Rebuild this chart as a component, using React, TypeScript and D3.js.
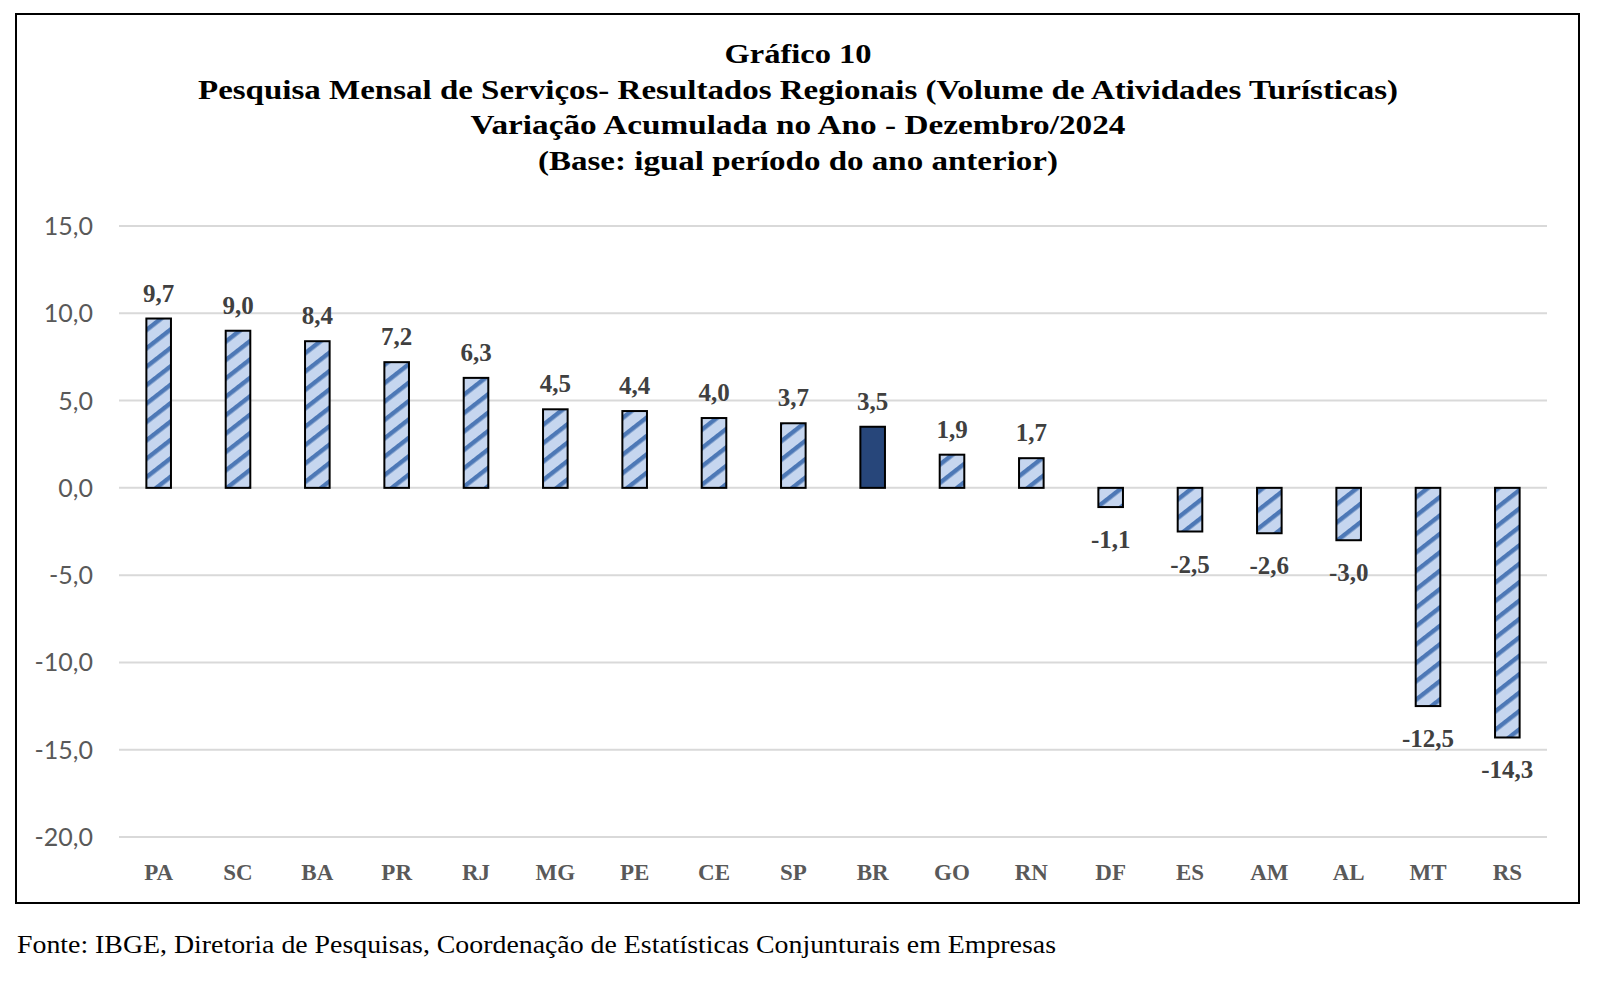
import React from "react";
import * as d3 from "d3";

const categories = ["PA", "SC", "BA", "PR", "RJ", "MG", "PE", "CE", "SP", "BR", "GO", "RN", "DF", "ES", "AM", "AL", "MT", "RS"];
const values = [9.7, 9.0, 8.4, 7.2, 6.3, 4.5, 4.4, 4.0, 3.7, 3.5, 1.9, 1.7, -1.1, -2.5, -2.6, -3.0, -12.5, -14.3];
const yTicks = [15, 10, 5, 0, -5, -10, -15, -20];
const highlight = "BR";
const titleLines = [
  "Gráfico 10",
  "Pesquisa Mensal de Serviços- Resultados Regionais (Volume de Atividades Turísticas)",
  "Variação Acumulada no Ano - Dezembro/2024",
  "(Base: igual período do ano anterior)",
];
const titleWidths = [147, 1200, 655, 520];
const footer = "Fonte: IBGE, Diretoria de Pesquisas, Coordenação de Estatísticas Conjunturais em Empresas";

const W = 1610;
const H = 988;
const plotLeft = 119;
const plotRight = 1547;
const fmt = (v: number) => v.toFixed(1).replace(".", ",");

export default function App() {
  const x = d3
    .scaleBand<string>()
    .domain(categories)
    .range([plotLeft, plotRight])
    .paddingInner(0.69)
    .paddingOuter(0.345);
  const y = d3.scaleLinear().domain([-20, 15]).range([837, 226]);
  const serif = "'Liberation Serif', 'Times New Roman', serif";
  const sans = "Lato, 'Open Sans', sans-serif";

  return (
    <div style={{ position: "absolute", left: 0, top: 0 }}>
      <svg width={W} height={H} style={{ display: "block", background: "#fff" }}>
        <defs>
          <pattern id="hatch" patternUnits="userSpaceOnUse" width={14.5} height={14.5} patternTransform="rotate(52)">
            <rect x={0} y={0} width={14.5} height={14.5} fill="#C6D6EF" />
            <rect x={0} y={0} width={4.4} height={14.5} fill="#4D78B6" />
          </pattern>
        </defs>
        <rect x={0} y={0} width={W} height={H} fill="#fff" />
        <rect x={16} y={14} width={1563} height={889} fill="none" stroke="#000" strokeWidth={2} />

        {titleLines.map((t, i) => (
          <text
            key={i}
            x={798}
            y={63 + i * 35.5}
            textAnchor="middle"
            fontFamily={serif}
            fontWeight="bold"
            fontSize={28}
            fill="#000"
            textLength={titleWidths[i]}
            lengthAdjust="spacingAndGlyphs"
          >
            {t}
          </text>
        ))}

        {yTicks.map((t) => (
          <g key={t}>
            <line x1={plotLeft} x2={plotRight} y1={y(t)} y2={y(t)} stroke="#D9D9D9" strokeWidth={2} />
            <text
              x={93}
              y={y(t)}
              dy="0.36em"
              textAnchor="end"
              fontFamily={sans}
              fontSize={25}
              fill="#595959"
            >
              {fmt(t)}
            </text>
          </g>
        ))}

        {categories.map((c, i) => {
          const v = values[i];
          const bx = x(c) as number;
          const bw = x.bandwidth();
          const top = y(Math.max(0, v));
          const bot = y(Math.min(0, v));
          const cx = bx + bw / 2;
          return (
            <g key={c}>
              <rect
                x={bx}
                y={top}
                width={bw}
                height={bot - top}
                fill={c === highlight ? "#27467A" : "url(#hatch)"}
                stroke="#000"
                strokeWidth={2}
              />
              <text
                x={cx}
                y={v >= 0 ? top - 17 : bot + 41}
                textAnchor="middle"
                fontFamily={serif}
                fontWeight="bold"
                fontSize={25}
                fill="#404040"
              >
                {fmt(v)}
              </text>
              <text
                x={cx}
                y={880}
                textAnchor="middle"
                fontFamily={serif}
                fontWeight="bold"
                fontSize={23}
                fill="#595959"
              >
                {c}
              </text>
            </g>
          );
        })}

        <text
          x={17}
          y={953}
          fontFamily={serif}
          fontSize={26}
          fill="#000"
          textLength={1039}
          lengthAdjust="spacingAndGlyphs"
        >
          {footer}
        </text>
      </svg>
    </div>
  );
}
